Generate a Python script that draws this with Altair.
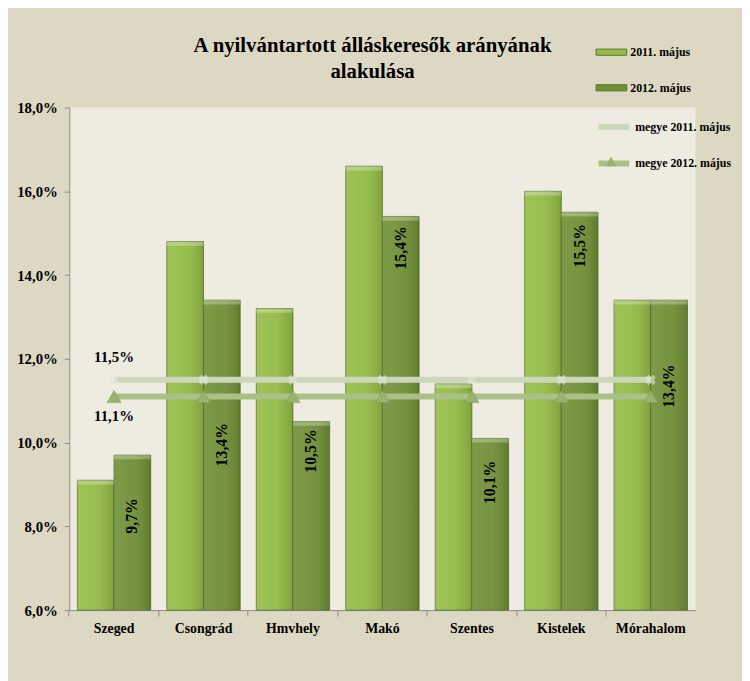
import altair as alt
import pandas as pd

categories = ["Szeged", "Csongrád", "Hmvhely", "Makó", "Szentes", "Kistelek", "Mórahalom"]
years = ["2011. május", "2012. május"]
values_2011 = [9.1, 14.8, 13.2, 16.6, 11.4, 16.0, 13.4]
values_2012 = [9.7, 13.4, 10.5, 15.4, 10.1, 15.5, 13.4]
# where the rotated 2012 labels sit on the value axis
label_anchor_2012 = [8.25, 9.95, 9.8, 14.65, 9.05, 14.7, 11.35]
county_series = ["megye 2011. május", "megye 2012. május"]
county_values = [11.5, 11.1]
y_ticks = [6, 8, 10, 12, 14, 16, 18]

SERIF = "Liberation Serif"


def pct(v):
    return f"{v:.1f}".replace(".", ",") + "%"


bar_df = pd.DataFrame(
    [{"category": c, "year": years[0], "value": v} for c, v in zip(categories, values_2011)]
    + [{"category": c, "year": years[1], "value": v} for c, v in zip(categories, values_2012)]
)
label_df = pd.DataFrame(
    [{"category": c, "year": years[1], "value": a, "label": pct(v)}
     for c, v, a in zip(categories, values_2012, label_anchor_2012)]
)
line_df = pd.DataFrame(
    [{"category": c, "series": s, "marker": s, "value": v, "label": pct(v)}
     for s, v in zip(county_series, county_values) for c in categories]
)

p_inner = 0.18
x_scale = alt.Scale(domain=categories, paddingInner=p_inner, paddingOuter=p_inner / 2)
y_scale = alt.Scale(domain=[6, 18], nice=False, zero=False)

bar_x = alt.X("category:N", sort=categories, scale=x_scale, title=None,
              axis=alt.Axis(orient="bottom", labelAngle=0, ticks=False, domain=True,
                            domainColor="#8c8c8c", labelFont=SERIF, labelFontSize=14,
                            labelFontWeight="bold", labelColor="#000000", labelPadding=12,
                            grid=False))
plain_x = alt.X("category:N", sort=categories, scale=x_scale, axis=None)
x_off = alt.XOffset("year:N", sort=years, scale=alt.Scale(domain=years, paddingInner=0, paddingOuter=0))
y_main = alt.Y("value:Q", scale=y_scale, title=None,
               axis=alt.Axis(orient="left", values=y_ticks, grid=False, domainColor="#8c8c8c",
                             tickColor="#8c8c8c", tickSize=5, labelPadding=7, labelFont=SERIF,
                             labelFontSize=15, labelFontWeight="bold", labelColor="#000000",
                             labelExpr="replace(format(datum.value, '.1f'), '.', ',') + '%'"))
y_plain = alt.Y("value:Q", scale=y_scale, title=None)

bars = alt.Chart(bar_df).mark_bar(stroke="#56722a", strokeWidth=0.8).encode(
    x=bar_x,
    xOffset=x_off,
    y=y_main,
    y2=alt.datum(6),
    fill=alt.Fill("year:N", sort=years,
                  scale=alt.Scale(domain=years, range=["#93bb45", "#6f8f35"]),
                  legend=alt.Legend(title=None, orient="none", legendX=532, legendY=-72,
                                    symbolType="M-1,-0.2H1V0.2H-1Z", symbolSize=961,
                                    symbolStrokeColor="#56722a", symbolStrokeWidth=1,
                                    labelFont=SERIF, labelFontSize=12, labelFontWeight="bold",
                                    labelColor="#000000", labelOffset=3, rowPadding=14,
                                    padding=0)),
)

shine = alt.Chart(bar_df).mark_bar(
    fill=alt.Gradient(gradient="linear", x1=0, x2=1, y1=0, y2=0,
                      stops=[alt.GradientStop(offset=0, color="rgba(255,255,255,0.10)"),
                             alt.GradientStop(offset=0.45, color="rgba(255,255,255,0.06)"),
                             alt.GradientStop(offset=1, color="rgba(0,0,0,0.14)")]),
).encode(x=plain_x, xOffset=x_off, y=y_plain, y2=alt.datum(6))

bevel = alt.Chart(bar_df).transform_calculate(
    lower="datum.value - 0.1"
).mark_bar(fill="rgba(255,255,255,0.28)").encode(
    x=plain_x, xOffset=x_off, y=y_plain, y2="lower:Q"
)

lines = alt.Chart(line_df).mark_line(strokeWidth=6).encode(
    x=alt.X("category:N", sort=categories, scale=x_scale, title=None,
            axis=alt.Axis(orient="bottom", bandPosition=-p_inner / (2 * (1 - p_inner)),
                          labels=False, ticks=True, tickSize=6, tickColor="#8c8c8c",
                          domain=False, grid=False)),
    y=y_plain,
    stroke=alt.Stroke("series:N", sort=county_series,
                      scale=alt.Scale(domain=county_series, range=["#cbd6bb", "#a9c087"]),
                      legend=alt.Legend(title=None, orient="none", legendX=532, legendY=1,
                                        symbolType="stroke", symbolSize=961, symbolStrokeWidth=6,
                                        labelFont=SERIF, labelFontSize=12, labelFontWeight="bold",
                                        labelColor="#000000", labelOffset=3, rowPadding=6,
                                        padding=0)),
)

pts_2011 = alt.Chart(line_df).transform_filter(alt.datum.series == county_series[0]).mark_point(
    shape="cross", angle=45, filled=True, size=110, color="#e2e7d9", opacity=0.6
).encode(x=plain_x, y=y_plain)

pts_2012 = alt.Chart(line_df).transform_filter(alt.datum.series == county_series[1]).mark_point(
    filled=True, size=200, color="#98b36d", opacity=1, stroke="#7f9a58", strokeWidth=0.5
).encode(
    x=plain_x,
    y=y_plain,
    shape=alt.Shape("marker:N", scale=alt.Scale(domain=[county_series[1]], range=["triangle-up"]),
                    legend=alt.Legend(title=None, orient="none", legendX=541, legendY=48,
                                      symbolSize=120, symbolFillColor="#98b36d",
                                      symbolStrokeColor="#7f9a58", labelExpr="''",
                                      labelFontSize=10, padding=0)),
)

first_pt = line_df[line_df["category"] == categories[0]]
lbl_hi = alt.Chart(first_pt[first_pt["series"] == county_series[0]]).mark_text(
    font=SERIF, fontSize=15, fontWeight="bold", color="#000000", dy=-23
).encode(x=plain_x, y=y_plain, text="label:N")
lbl_lo = alt.Chart(first_pt[first_pt["series"] == county_series[1]]).mark_text(
    font=SERIF, fontSize=15, fontWeight="bold", color="#000000", dy=20
).encode(x=plain_x, y=y_plain, text="label:N")

bar_labels = alt.Chart(label_df).mark_text(
    angle=270, font=SERIF, fontSize=16, fontWeight="bold", color="#000000",
    align="center", baseline="middle"
).encode(x=plain_x, xOffset=x_off, y=y_plain, text="label:N")

chart = alt.layer(bars, shine, bevel, lines, pts_2011, pts_2012, lbl_hi, lbl_lo,
                  bar_labels).resolve_axis(
    x="independent"
).properties(
    width=633,
    height=508,
    background="#ddd8c3",
    padding={"left": 62, "top": 97, "right": 47, "bottom": 68},
    autosize=alt.AutoSizeParams(type="none"),
    title=alt.TitleParams(["A nyilvántartott álláskeresők arányának", "alakulása"],
                          font=SERIF, fontSize=21, fontWeight="bold", color="#000000",
                          anchor="middle", dx=-10, offset=-46, lineHeight=26),
).configure_view(fill="#eeebe1", stroke=None).configure_title(font=SERIF, fontWeight="bold")

chart.save("out.html", embed_options={"renderer": "svg", "actions": False})
